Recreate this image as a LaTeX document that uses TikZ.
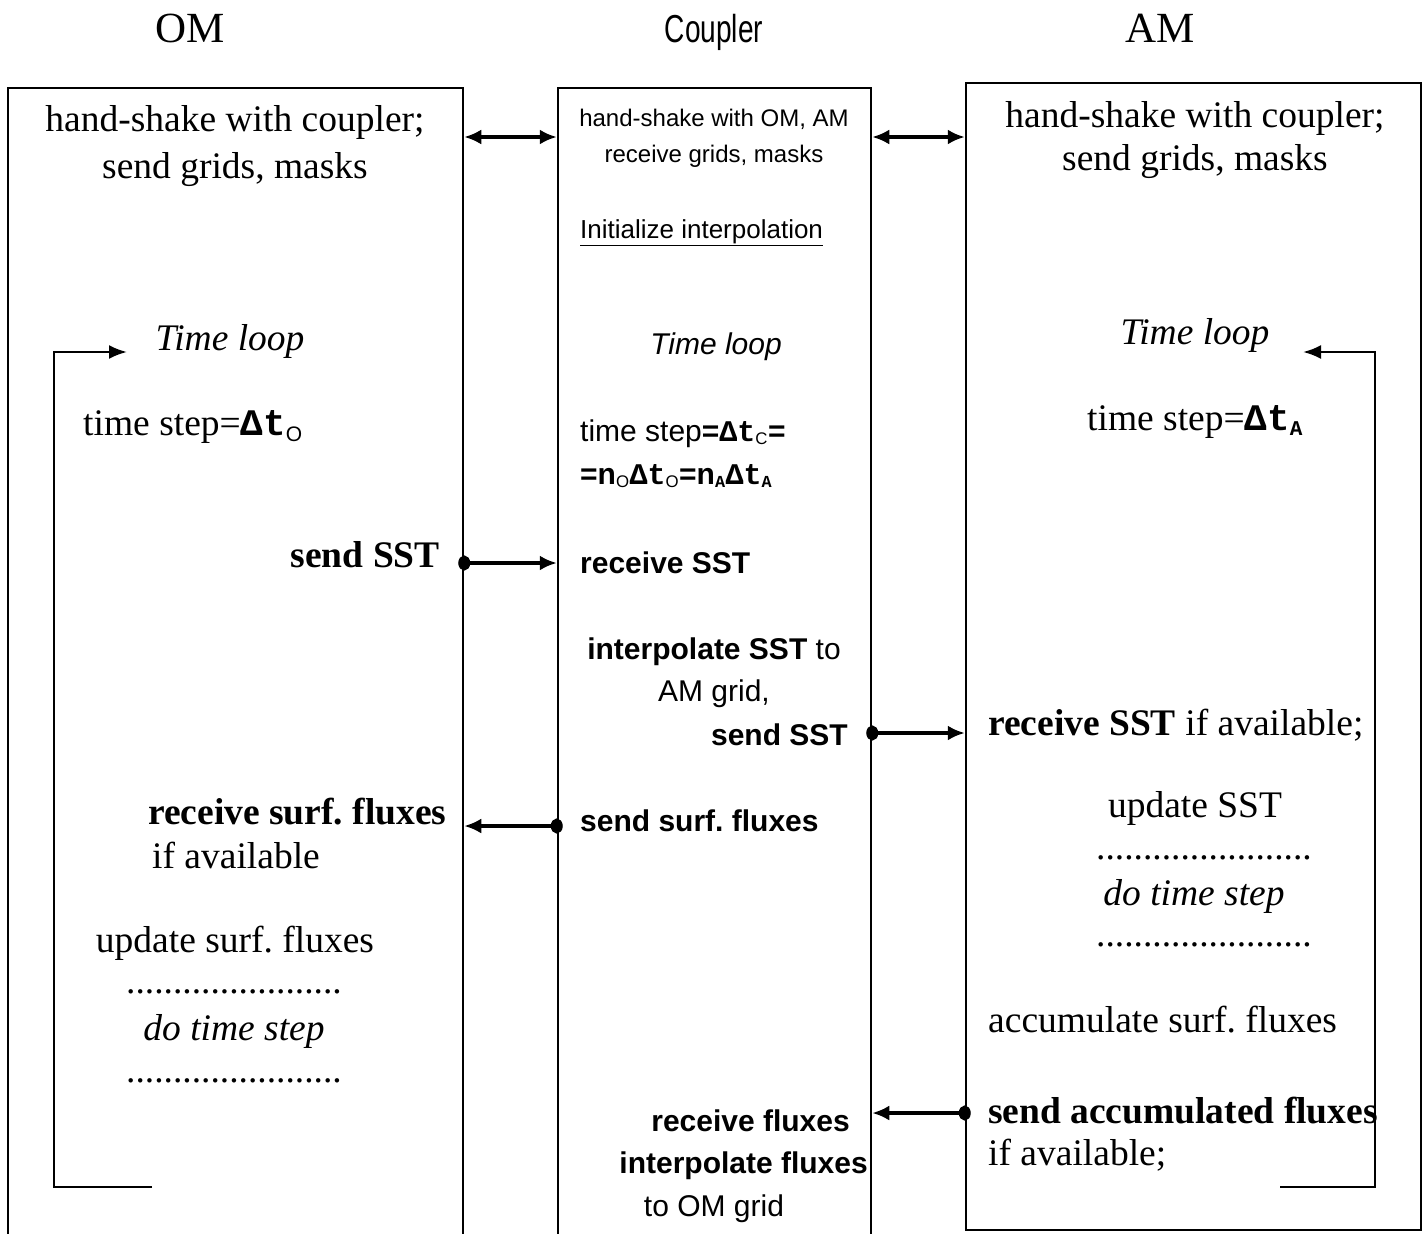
\documentclass[tikz,border=0pt]{standalone}
\usepackage{fontspec}
\setmainfont{Liberation Serif}
\setsansfont{Liberation Sans}
\setmonofont{Liberation Mono}
\newfontfamily\narrowsf[FakeStretch=0.72]{Liberation Sans}
\usetikzlibrary{arrows.meta}
\frenchspacing

\newcommand{\dtstep}{\texttt{\textbf{Δt}}}
\newcommand{\subsf}[1]{\textsubscript{\sffamily\mdseries\scalebox{0.8}{#1}}}
\newcommand{\subtt}[1]{\textsubscript{\ttfamily\bfseries\scalebox{0.8}{#1}}}

\begin{document}
\begin{tikzpicture}[
    x = 1pt, y = -1pt,
    every node/.style = {inner sep = 0pt},
    box/.style = {draw,
      line width = 2.5pt},
    serif/.style = {font = \fontsize{37.5}{40}\selectfont},
    sans/.style = {font = \sffamily\fontsize{30}{36}\selectfont},
    smallsans/.style = {font = \sffamily\fontsize{24}{30}\selectfont},
    title/.style = {font = \fontsize{43}{48}\selectfont},
    shake/.style = {line width = 3.2pt,
      {Latex[length = 17pt, width = 15pt]}-{Latex[length = 17pt, width = 15pt]}},
    message/.style = {line width = 3.2pt, shorten < = -6pt,
      {Circle[length = 12pt, width = 15pt]}-{Latex[length = 17pt, width = 15pt]}},
    loopline/.style = {line width = 2.5pt,
      -{Latex[length = 18pt, width = 14pt]}},
    ]

    \clip (0, 0) rectangle (1427, 1234);

    % titles
    \node at (190, 42) [title, anchor = base, name = t_om] {OM};
    \node at (714, 42) [title, anchor = base, name = t_cp] {\narrowsf\fontsize{39}{44}\selectfont Coupler};
    \node at (1160, 42) [title, anchor = base, name = t_am] {AM};

    % the three columns
    \node at (235.5, 694)
    [box, minimum width = 455pt, minimum height = 1212pt, name = om] {};
    \node at (714.5, 694)
    [box, minimum width = 313pt, minimum height = 1212pt, name = cp] {};
    \node at (1193.5, 656.5)
    [box, minimum width = 455pt, minimum height = 1147pt, name = am] {};

    % OM
    \node at (235, 131) [serif, anchor = base, name = om_hs1] {hand-shake with coupler;};
    \node at (235, 178) [serif, anchor = base, name = om_hs2] {send grids, masks};
    \node at (230, 350) [serif, anchor = base, name = om_tl] {\itshape Time loop};
    \node at (83, 435) [serif, anchor = base west, name = om_ts]
    {time step=\dtstep\subsf{O}};
    \node at (440, 567) [serif, anchor = base east, name = om_sst] {\bfseries send SST};
    \node at (148, 824) [serif, anchor = base west, name = om_rf1]
    {\bfseries receive surf. fluxes};
    \node at (152, 868) [serif, anchor = base west, name = om_rf2] {if available};
    \node at (235, 952) [serif, anchor = base, name = om_up] {update surf. fluxes};
    \node at (234, 993) [serif, anchor = base, name = om_d1] {.......................};
    \node at (234, 1040) [serif, anchor = base, name = om_do] {\itshape do time step};
    \node at (234, 1082) [serif, anchor = base, name = om_d2] {.......................};

    % coupler
    \node at (714, 126) [smallsans, anchor = base, name = cp_hs1] {hand-shake with OM, AM};
    \node at (714, 162) [smallsans, anchor = base, name = cp_hs2] {receive grids, masks};
    \node at (580, 238) [sans, font = \sffamily\fontsize{26}{30}\selectfont,
      anchor = base west, name = cp_init] {\underline{Initialize interpolation}};
    \node at (716, 354) [sans, anchor = base, name = cp_tl] {\itshape Time loop};
    \node at (580, 441) [sans, anchor = base west, name = cp_ts1]
    {time step\textbf{=\dtstep\subsf{C}=}};
    \node at (580, 484) [sans, anchor = base west, name = cp_ts2]
    {\bfseries =n\subsf{O}\dtstep\subsf{O}=n\subtt{A}\dtstep\subtt{A}};
    \node at (580, 573) [sans, anchor = base west, name = cp_rs] {\bfseries receive SST};
    \node at (714, 659) [sans, anchor = base, name = cp_int1] {\textbf{interpolate SST} to};
    \node at (714, 701) [sans, anchor = base, name = cp_int2] {AM grid,};
    \node at (848, 745) [sans, anchor = base east, name = cp_sst] {\bfseries send SST};
    \node at (580, 831) [sans, anchor = base west, name = cp_sf] {\bfseries send surf. fluxes};
    \node at (850, 1131) [sans, anchor = base east, name = cp_rf1] {\bfseries receive fluxes};
    \node at (868, 1173) [sans, anchor = base east, name = cp_rf2] {\bfseries interpolate fluxes};
    \node at (714, 1216) [sans, anchor = base, name = cp_rf3] {to OM grid};

    % AM
    \node at (1195, 127) [serif, anchor = base, name = am_hs1] {hand-shake with coupler;};
    \node at (1195, 170) [serif, anchor = base, name = am_hs2] {send grids, masks};
    \node at (1195, 344) [serif, anchor = base, name = am_tl] {\itshape Time loop};
    \node at (1195, 430) [serif, anchor = base, name = am_ts]
    {time step=\dtstep\subtt{A}};
    \node at (988, 735) [serif, anchor = base west, name = am_rs]
    {\textbf{receive SST} if available;};
    \node at (1195, 817) [serif, anchor = base, name = am_up] {update SST};
    \node at (1204, 859) [serif, anchor = base, name = am_d1] {.......................};
    \node at (1194, 905) [serif, anchor = base, name = am_do] {\itshape do time step};
    \node at (1204, 946) [serif, anchor = base, name = am_d2] {.......................};
    \node at (988, 1032) [serif, anchor = base west, name = am_acc] {accumulate surf. fluxes};
    \node at (988, 1123) [serif, anchor = base west, name = am_saf]
    {\bfseries send accumulated fluxes};
    \node at (988, 1165) [serif, anchor = base west, name = am_ia] {if available;};

    % rows of the messages
    \coordinate (hs_row) at (0, 137);
    \coordinate (sst_row) at (0, 563);
    \coordinate (sst_am_row) at (0, 733);
    \coordinate (flux_row) at (0, 826);
    \coordinate (acc_row) at (0, 1113);

    \draw [shake] (om.east |- hs_row) -- (cp.west |- hs_row);
    \draw [shake] (cp.east |- hs_row) -- (am.west |- hs_row);

    \draw [message] (om.east |- sst_row) -- (cp.west |- sst_row);
    \draw [message] (cp.east |- sst_am_row) -- (am.west |- sst_am_row);
    \draw [message] (cp.west |- flux_row) -- (om.east |- flux_row);
    \draw [message] (am.west |- acc_row) -- (cp.east |- acc_row);

    % time loops
    \coordinate (om_loop_a) at (152, 1187);
    \coordinate (om_loop_b) at (54, 352);
    \coordinate (om_loop_c) at (127, 352);
    \draw [loopline] (om_loop_a) -| (om_loop_b) -- (om_loop_c);

    \coordinate (am_loop_a) at (1280, 1187);
    \coordinate (am_loop_b) at (1375, 352);
    \coordinate (am_loop_c) at (1303, 352);
    \draw [loopline] (am_loop_a) -| (am_loop_b) -- (am_loop_c);
  \end{tikzpicture}
\end{document}
